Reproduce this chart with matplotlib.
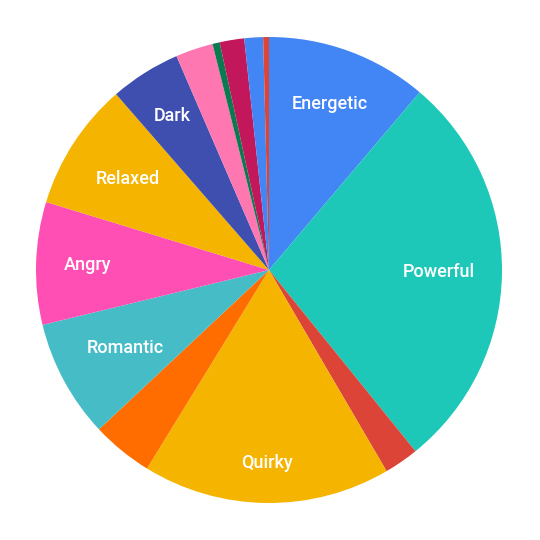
import matplotlib
matplotlib.use("Agg")
import matplotlib.pyplot as plt
import numpy as np

categories = ["Energetic", "Powerful", "", "Quirky", "", "Romantic", "Angry",
              "Relaxed", "Dark", "", "", "", "", ""]
values = [11.2, 28.0, 2.4, 17.2, 4.25, 8.2, 8.5, 8.9, 4.9, 2.6, 0.5, 1.7, 1.3, 0.4]
colors = ["#4285F4", "#1DC8B8", "#DB4437", "#F4B400", "#FF6D00", "#46BDC6",
          "#FF4FB4", "#F4B400", "#3F4FAF", "#FF77B0", "#0B7A50", "#C2185B",
          "#4285F4", "#DB4437"]
# radial placement of each label (fraction of radius) - style only
label_radius = [0.76, 0.73, 0.75, 0.83, 0.75, 0.70, 0.78, 0.72, 0.78,
                0.75, 0.75, 0.75, 0.75, 0.75]

plt.rcParams['font.family'] = ['Roboto', 'DejaVu Sans']

fig = plt.figure(figsize=(5.4, 5.4), dpi=100)
ax = fig.add_axes([36/540, 37/540, 466/540, 466/540])
wedges, texts = ax.pie(values, colors=colors,
                       startangle=90, counterclock=False,
                       radius=1.0, wedgeprops=dict(linewidth=0))
for w, name, r in zip(wedges, categories, label_radius):
    if not name:
        continue
    ang = np.deg2rad((w.theta1 + w.theta2) / 2)
    ax.text(r * np.cos(ang), r * np.sin(ang), name, color="white",
            fontsize=13, fontweight=500, ha="center", va="center")
ax.set_xlim(-1, 1)
ax.set_ylim(-1, 1)
ax.set_aspect("equal")
ax.axis("off")
fig.savefig("out.png", dpi=100)
